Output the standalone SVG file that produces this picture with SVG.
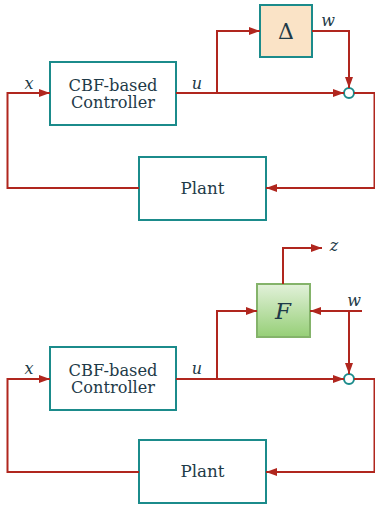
<svg xmlns="http://www.w3.org/2000/svg" width="375" height="508" viewBox="0 0 375 508">
  <defs>
    <marker id="arr" markerUnits="userSpaceOnUse" markerWidth="11" markerHeight="8" refX="11" refY="4" orient="auto">
      <path d="M0,0 L11,4 L0,8 z" fill="#b0261e"/>
    </marker>
    <linearGradient id="gF" x1="0" y1="0" x2="0" y2="1">
      <stop offset="0" stop-color="#e2f1da"/>
      <stop offset="1" stop-color="#96cf77"/>
    </linearGradient>
  </defs>
  <style>
    .box { fill: #ffffff; stroke: #1b8b8b; stroke-width: 2; }
    .delta { fill: #fae3c6; stroke: #1b8b8b; stroke-width: 2; }
    .fbox { fill: url(#gF); stroke: #84b36a; stroke-width: 2; }
    .sum { fill: #ffffff; stroke: #1b8b8b; stroke-width: 2; }
    .wire { fill: none; stroke: #b0261e; stroke-width: 2; }
    .arrow { marker-end: url(#arr); }
    .lbl { font-family: "DejaVu Serif", "Liberation Serif", serif; font-size: 16px; fill: #1e3a48; text-anchor: middle; }
    .math { font-family: "DejaVu Serif", "Liberation Serif", serif; font-style: italic; font-size: 16px; fill: #1e3a48; text-anchor: middle; }
  </style>

  <!-- Top diagram -->
  <g id="top-controller">
    <rect class="box" x="50" y="62" width="126" height="63"/>
    <text class="lbl" x="113" y="90.5" textLength="89" lengthAdjust="spacingAndGlyphs">CBF-based</text>
    <text class="lbl" x="113" y="108" textLength="84" lengthAdjust="spacingAndGlyphs">Controller</text>
  </g>
  <g id="top-delta">
    <rect class="delta" x="260" y="5" width="52" height="52"/>
    <text class="lbl" x="286" y="39" style="font-size:22px">Δ</text>
  </g>
  <g id="top-plant">
    <rect class="box" x="139" y="157" width="127" height="63"/>
    <text class="lbl" x="202.5" y="193.5" textLength="44" lengthAdjust="spacingAndGlyphs">Plant</text>
  </g>
  <g id="top-sum">
    <circle class="sum" cx="349" cy="93" r="5"/>
  </g>

  <!-- Bottom diagram -->
  <g id="bot-controller">
    <rect class="box" x="50" y="347" width="126" height="63"/>
    <text class="lbl" x="113" y="375.5" textLength="89" lengthAdjust="spacingAndGlyphs">CBF-based</text>
    <text class="lbl" x="113" y="393" textLength="84" lengthAdjust="spacingAndGlyphs">Controller</text>
  </g>
  <g id="bot-F">
    <rect class="fbox" x="257" y="284" width="53" height="53"/>
    <text class="math" x="283" y="319" style="font-size:23px">F</text>
  </g>
  <g id="bot-plant">
    <rect class="box" x="139" y="440" width="127" height="63"/>
    <text class="lbl" x="202.5" y="476.5" textLength="44" lengthAdjust="spacingAndGlyphs">Plant</text>
  </g>
  <g id="bot-sum">
    <circle class="sum" cx="349" cy="379" r="5"/>
  </g>

  <g id="connectors">
    <!-- top -->
    <path class="wire arrow" d="M139,188 H7.5 V93 H50"/>
    <path class="wire arrow" d="M176,93 H344"/>
    <path class="wire arrow" d="M217,93 V31 H260"/>
    <path class="wire arrow" d="M312,31 H349 V88"/>
    <path class="wire arrow" d="M354,93 H374.5 V188 H266"/>
    <!-- bottom -->
    <path class="wire arrow" d="M139,472 H7.5 V379 H50"/>
    <path class="wire arrow" d="M176,379 H344"/>
    <path class="wire arrow" d="M217,379 V311 H257"/>
    <path class="wire arrow" d="M362,311 H310"/>
    <path class="wire arrow" d="M349,311 V374"/>
    <path class="wire arrow" d="M283,284 V248 H322"/>
    <path class="wire arrow" d="M354,379 H374.5 V472 H266"/>
  </g>

  <g id="labels">
    <text class="math" x="29" y="89">x</text>
    <text class="math" x="197" y="89">u</text>
    <text class="math" x="328" y="26">w</text>
    <text class="math" x="29" y="374">x</text>
    <text class="math" x="197" y="374">u</text>
    <text class="math" x="354" y="306">w</text>
    <text class="math" x="334" y="251">z</text>
  </g>
</svg>
